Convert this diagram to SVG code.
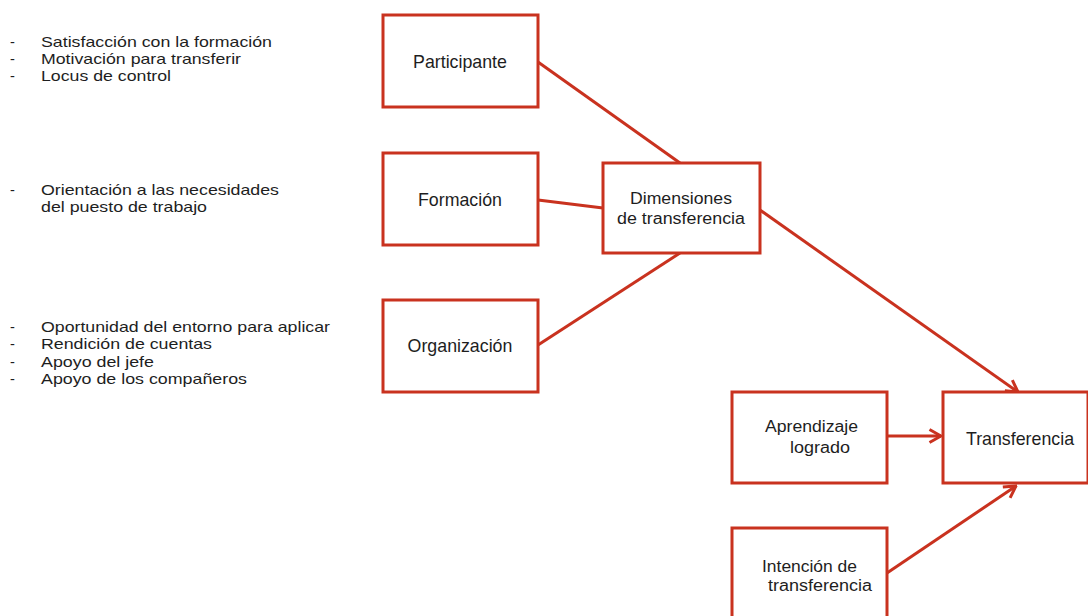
<svg xmlns="http://www.w3.org/2000/svg" width="1088" height="616" viewBox="0 0 1088 616">
<defs>
<style>
.box{fill:#fff;stroke:#c9321f;stroke-width:3}
.ln{stroke:#c9321f;stroke-width:3;fill:none}
.t{font-family:"Liberation Sans",Arial,sans-serif;font-size:17.8px;fill:#1e1e1e}
.s{font-size:14.6px}
.m{font-size:16px}
.c{text-anchor:middle}
</style>
<marker id="ah" viewBox="0 0 16 16" refX="14.5" refY="8" markerWidth="16" markerHeight="16" markerUnits="userSpaceOnUse" orient="auto">
<polyline points="3,1.5 14.5,8 3,14.5" fill="none" stroke="#c9321f" stroke-width="3"/>
</marker>
</defs>
<rect width="1088" height="616" fill="#fff"/>
<g id="lists" class="t s">
<text x="10" y="47">-</text><text x="41" y="47" textLength="231" lengthAdjust="spacingAndGlyphs">Satisfacción con la formación</text>
<text x="10" y="64">-</text><text x="41" y="64" textLength="200" lengthAdjust="spacingAndGlyphs">Motivación para transferir</text>
<text x="10" y="81">-</text><text x="41" y="81" textLength="130" lengthAdjust="spacingAndGlyphs">Locus de control</text>
<text x="10" y="195">-</text><text x="41" y="195" textLength="238" lengthAdjust="spacingAndGlyphs">Orientación a las necesidades</text>
<text x="41" y="212" textLength="166" lengthAdjust="spacingAndGlyphs">del puesto de trabajo</text>
<text x="10" y="332">-</text><text x="41" y="332" textLength="289" lengthAdjust="spacingAndGlyphs">Oportunidad del entorno para aplicar</text>
<text x="10" y="349">-</text><text x="41" y="349" textLength="171" lengthAdjust="spacingAndGlyphs">Rendición de cuentas</text>
<text x="10" y="367">-</text><text x="41" y="367" textLength="113" lengthAdjust="spacingAndGlyphs">Apoyo del jefe</text>
<text x="10" y="384">-</text><text x="41" y="384" textLength="206" lengthAdjust="spacingAndGlyphs">Apoyo de los compañeros</text>
</g>
<g id="connectors">
<line class="ln" x1="538" y1="62" x2="680" y2="163"/>
<line class="ln" x1="538" y1="200" x2="603" y2="208"/>
<line class="ln" x1="538" y1="345" x2="680" y2="253"/>
<line class="ln" x1="760" y1="210" x2="1018" y2="392" marker-end="url(#ah)"/>
<line class="ln" x1="887" y1="436" x2="941" y2="436" marker-end="url(#ah)"/>
<line class="ln" x1="887" y1="573" x2="1016" y2="486" marker-end="url(#ah)"/>
</g>
<g id="participante"><rect class="box" x="383" y="15" width="155" height="92"/><text class="t c" x="460" y="68">Participante</text></g>
<g id="formacion"><rect class="box" x="383" y="153" width="155" height="92"/><text class="t c" x="460" y="206">Formación</text></g>
<g id="organizacion"><rect class="box" x="383" y="300" width="155" height="92"/><text class="t c" x="460" y="352">Organización</text></g>
<g id="dimensiones"><rect class="box" x="603" y="163" width="157" height="90"/><text class="t m" x="630" y="204" textLength="102" lengthAdjust="spacingAndGlyphs">Dimensiones</text><text class="t m" x="617" y="224" textLength="128" lengthAdjust="spacingAndGlyphs">de transferencia</text></g>
<g id="aprendizaje"><rect class="box" x="732" y="392" width="155" height="91"/><text class="t m" x="765" y="432" textLength="93" lengthAdjust="spacingAndGlyphs">Aprendizaje</text><text class="t m" x="790" y="453" textLength="60" lengthAdjust="spacingAndGlyphs">logrado</text></g>
<g id="transferencia"><rect class="box" x="943" y="392" width="145" height="91"/><text class="t c" x="1020" y="445">Transferencia</text></g>
<g id="intencion"><rect class="box" x="732" y="528" width="155" height="95"/><text class="t m" x="762" y="572" textLength="95" lengthAdjust="spacingAndGlyphs">Intención de</text><text class="t m" x="768" y="591" textLength="104" lengthAdjust="spacingAndGlyphs">transferencia</text></g>
</svg>
